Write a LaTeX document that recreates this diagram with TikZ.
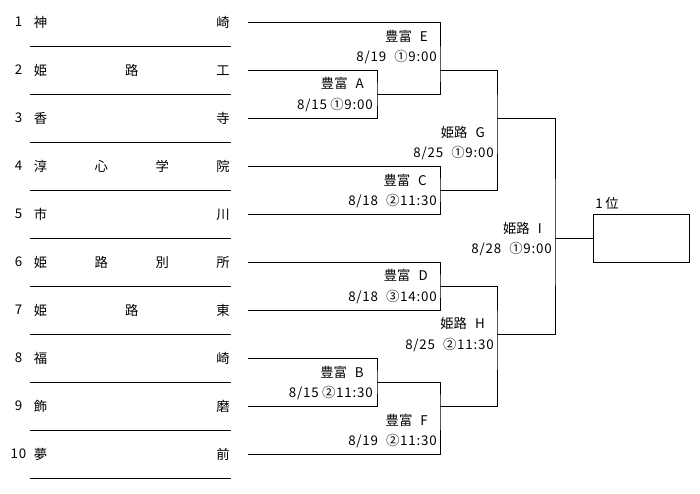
\documentclass[tikz,border=0pt]{standalone}
\usepackage{fontspec}
\setmainfont{Noto Sans CJK JP}
\newfontfamily\datefont[LetterSpace=6]{Noto Sans CJK JP}
\usepackage{tikz}
\usetikzlibrary{positioning}

\tikzset{
	txt/.style={inner sep=0pt,font=\fontsize{10pt}{12pt}\selectfont},
	school/.style={txt,anchor=west},
	lbl/.style={txt,anchor=east},
	date/.style={lbl,font=\fontsize{10pt}{12pt}\datefont},
	brk/.style={line width=0.7pt}
}

\begin{document}
\begin{tikzpicture}[x=0.75pt,y=-0.75pt]
	\useasboundingbox (0,0) rectangle (700,493);
	
	\foreach \i/\s in {1/神\hfill 崎,2/姫\hfill 路\hfill 工,3/香\hfill 寺,
		4/淳\hfill 心\hfill 学\hfill 院,5/市\hfill 川,6/姫\hfill 路\hfill 別\hfill 所,
		7/姫\hfill 路\hfill 東,8/福\hfill 崎,9/飾\hfill 磨,10/夢\hfill 前}{
		\pgfmathsetmacro\ty{22+48*(\i-1)}
		\node[txt,font=\fontsize{10pt}{12pt}\datefont] (n\i) at (18.5,\ty) {\i};
		\node[school] (s\i) at (33.5,\ty) {\hbox to 147pt{\s}};
		\draw[brk] (30,\ty+24)--(231,\ty+24);
		\coordinate (t\i) at (248,\ty);
	}
	
	\coordinate (A) at (377,94);
	\coordinate (B) at (377,382);
	\coordinate (C) at (440,190);
	\coordinate (D) at (440,286);
	\coordinate (E) at (440,70);
	\coordinate (F) at (440,406);
	\coordinate (G) at (497,118);
	\coordinate (H) at (497,334);
	\coordinate (I) at (555,238);
	
	\draw[brk](t2)-|(A)|-(t3)
	(t8)-|(B)|-(t9)
	(t4)-|(C)|-(t5)
	(t6)-|(D)|-(t7)
	(t1)-|(E)|-(A)
	(B)-|(F)|-(t10)
	(E)-|(G)|-(C)
	(D)-|(H)|-(F)
	(G)-|(I)|-(H);
	
	\node[brk,draw,anchor=west,inner sep=0pt,minimum width=72pt,minimum height=36pt] (win) at (593,238) {};
	\draw[brk](I)--(win);
	\node[txt,anchor=west] (rank) at (595,203) {1\hspace{.2em}位};
	
	\node[lbl] (A-name) at (364,83) {豊富\hspace{.6em}A};
	\node[date] (A-date) at (373,105) {8/15\hspace{.25em}①9:00};
	\node[lbl] (B-name) at (364,372) {豊富\hspace{.6em}B};
	\node[date] (B-date) at (373,393) {8/15\hspace{.25em}②11:30};
	\node[lbl] (C-name) at (427,180) {豊富\hspace{.6em}C};
	\node[date] (C-date) at (437,201) {8/18\hspace{.6em}②11:30};
	\node[lbl] (D-name) at (428,275) {豊富\hspace{.6em}D};
	\node[date] (D-date) at (437,297) {8/18\hspace{.6em}③14:00};
	\node[lbl] (E-name) at (428,36) {豊富\hspace{.6em}E};
	\node[date] (E-date) at (437,57) {8/19\hspace{.6em}①9:00};
	\node[lbl] (F-name) at (428,420) {豊富\hspace{.6em}F};
	\node[date] (F-date) at (437,441) {8/19\hspace{.6em}②11:30};
	\node[lbl] (G-name) at (485,132) {姫路\hspace{.6em}G};
	\node[date] (G-date) at (494,153) {8/25\hspace{.6em}①9:00};
	\node[lbl] (H-name) at (485,323) {姫路\hspace{.6em}H};
	\node[date] (H-date) at (494,345) {8/25\hspace{.6em}②11:30};
	\node[lbl] (I-name) at (542,228) {姫路\hspace{.6em}I};
	\node[date] (I-date) at (552,249) {8/28\hspace{.6em}①9:00};
\end{tikzpicture}
\end{document}
